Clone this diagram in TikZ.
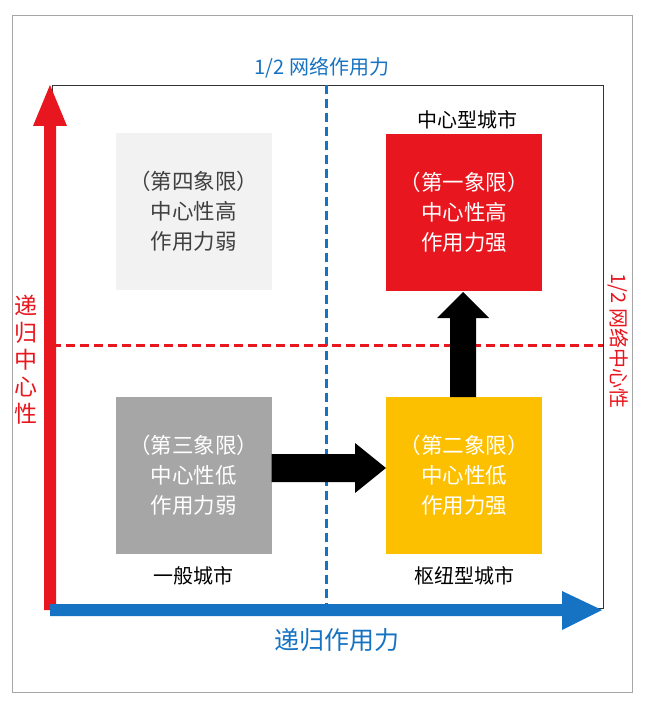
\documentclass[tikz,border=0pt]{standalone}
\usepackage{fontspec}
\newfontfamily\cjk{Noto Sans CJK SC}
\begin{document}
\begin{tikzpicture}[x=1pt,y=-1pt,font=\cjk\fontsize{20}{24}\selectfont,
 quad/.style={minimum width=156pt,minimum height=157pt,align=center,inner sep=0pt,font=\cjk\fontsize{21.5}{30}\selectfont},
 lbl/.style={inner sep=1pt}]
\useasboundingbox (0,0) rectangle (644,708);
\definecolor{myblue}{HTML}{1672C2}\definecolor{myred}{HTML}{E8161E}
\draw[gray!70,line width=0.8pt] (12,15) rectangle (632,692);
\draw[black!80,line width=0.8pt] (52,85) rectangle (603,608);
\coordinate (vt) at (326,85);\coordinate (vb) at (326,608);
\coordinate (hl) at (52,345);\coordinate (hr) at (603,345);
\draw[myblue,line width=3pt,dash pattern=on 9pt off 5pt] (vt)--(vb);
\draw[myred,line width=3pt,dash pattern=on 9pt off 5pt] (hl)--(hr);
\node[quad,fill=black!5,text=black!75] (q4) at (193.5,211.5) {（第四象限）\\中心性高\\作用力弱};
\node[quad,fill=myred,text=white] (q1) at (464,212.5) {（第一象限）\\中心性高\\作用力强};
\node[quad,fill=black!35,text=white] (q3) at (193.5,475.5) {（第三象限）\\中心性低\\作用力弱};
\node[quad,fill={rgb,255:red,253;green,192;blue,0},text=white] (q2) at (464,475) {（第二象限）\\中心性低\\作用力强};
\fill[black] (q3.east|-0,454) -- (355,454) -- (355,443) -- (386,468) -- (355,493) -- (355,482) -- (q3.east|-0,482) -- cycle;
\fill[black] (450,397) -- (450,318) -- (437,318) -- (463,292) -- (489,318) -- (476,318) -- (476,397) -- cycle;
\fill[myred] (44,610) -- (44,126) -- (33,126) -- (50,85) -- (67,126) -- (56,126) -- (56,610) -- cycle;
\fill[myblue] (50,604) -- (562,604) -- (562,591) -- (602,610) -- (562,630) -- (562,616) -- (50,616) -- cycle;
\node[lbl,text=myblue] (t1) at (322,68) {1/2 网络作用力};
\node[lbl] (t2) at (467,120) {中心型城市};
\node[lbl] (t3) at (193,576) {一般城市};
\node[lbl] (t4) at (464,576) {枢纽型城市};
\node[lbl,text=myblue,font=\cjk\fontsize{25}{30}\selectfont] (t5) at (337,640) {递归作用力};
\node[lbl,text=myred,align=center,font=\cjk\fontsize{23}{27}\selectfont] (t6) at (26,360) {递\\归\\中\\心\\性};
\node[lbl,text=myred,rotate=-90,font=\cjk\fontsize{20}{24}\selectfont] (t7) at (618,341) {1/2 网络中心性};
\end{tikzpicture}
\end{document}
